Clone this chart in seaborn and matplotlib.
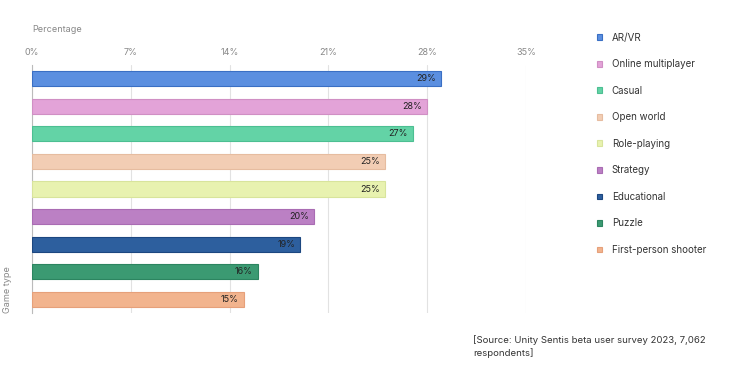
import matplotlib
matplotlib.use('Agg')

import pandas as pd
import seaborn as sns
import matplotlib.pyplot as plt
from matplotlib.patches import Patch

game_types = ['AR/VR', 'Online multiplayer', 'Casual', 'Open world', 'Role-playing',
              'Strategy', 'Educational', 'Puzzle', 'First-person shooter']
percentages = [29, 28, 27, 25, 25, 20, 19, 16, 15]
x_ticks = [0, 7, 14, 21, 28, 35]

fill_colors = ['#5b8fe0', '#e3a3d8', '#63d3a6', '#f2cdb4', '#e8f2b0',
               '#bb80c4', '#2d5f9e', '#3b9a72', '#f2b48e']
edge_colors = ['#3a6fc4', '#d08fc4', '#4cbf92', '#e6bca0', '#d8e49c',
               '#a96cb3', '#1c4780', '#2c8560', '#e6a07a']

df = pd.DataFrame({'game_type': game_types, 'pct': percentages})

sns.set_style('white')
plt.rcParams['font.family'] = ['Inter', 'DejaVu Sans']

fig = plt.figure(figsize=(7.3, 3.71), dpi=100)
ax = fig.add_axes([0.0438, 0.156, 0.6767, 0.669])

sns.barplot(data=df, y='game_type', x='pct', hue='game_type', palette=fill_colors,
            saturation=1, width=0.55, legend=False, ax=ax, zorder=3)

for bar, ec in zip(ax.patches, edge_colors):
    bar.set_edgecolor(ec)
    bar.set_linewidth(0.8)

for i, v in enumerate(percentages):
    ax.text(v - 0.35, i, f'{v}%', ha='right', va='center', fontsize=6.5,
            color='#222222', zorder=4)

ax.set_xlim(0, 35)
ax.set_ylim(8.5, -0.5)
ax.set_xticks(x_ticks)
ax.set_xticklabels([f'{t}%' for t in x_ticks])
ax.xaxis.tick_top()
ax.tick_params(axis='x', length=0, labelsize=6.5, labelcolor='#888888', pad=6)
ax.set_yticks([])
ax.set_ylabel('')
ax.set_xlabel('')
ax.grid(axis='x', color='#e2e2e2', linewidth=0.8, zorder=0)
for s in ['top', 'right', 'bottom']:
    ax.spines[s].set_visible(False)
ax.spines['left'].set_color('#bbbbbb')
ax.spines['left'].set_linewidth(0.8)

fig.text(32 / 730, 1 - 30 / 371, 'Percentage', fontsize=6.5, color='#888888',
         ha='left', va='center')
fig.text(8 / 730, 1 - 313 / 371, 'Game type', fontsize=6.5, color='#888888',
         rotation=90, ha='center', va='bottom')

handles = [Patch(facecolor=fc, edgecolor=ec, linewidth=0.8, label=g)
           for g, fc, ec in zip(game_types, fill_colors, edge_colors)]
fig.legend(handles=handles, loc='upper left', bbox_to_anchor=(588 / 730, 1 - 24 / 371),
           frameon=False, fontsize=7, handlelength=0.55, handleheight=0.55,
           labelspacing=1.7, handletextpad=1.0, labelcolor='#333333')

fig.text(473 / 730, 1 - 340 / 371, '[Source: Unity Sentis beta user survey 2023, 7,062',
         fontsize=6.9, color='#333333', ha='left', va='center')
fig.text(473 / 730, 1 - 353 / 371, 'respondents]',
         fontsize=6.9, color='#333333', ha='left', va='center')

fig.savefig('out.png', dpi=100)
